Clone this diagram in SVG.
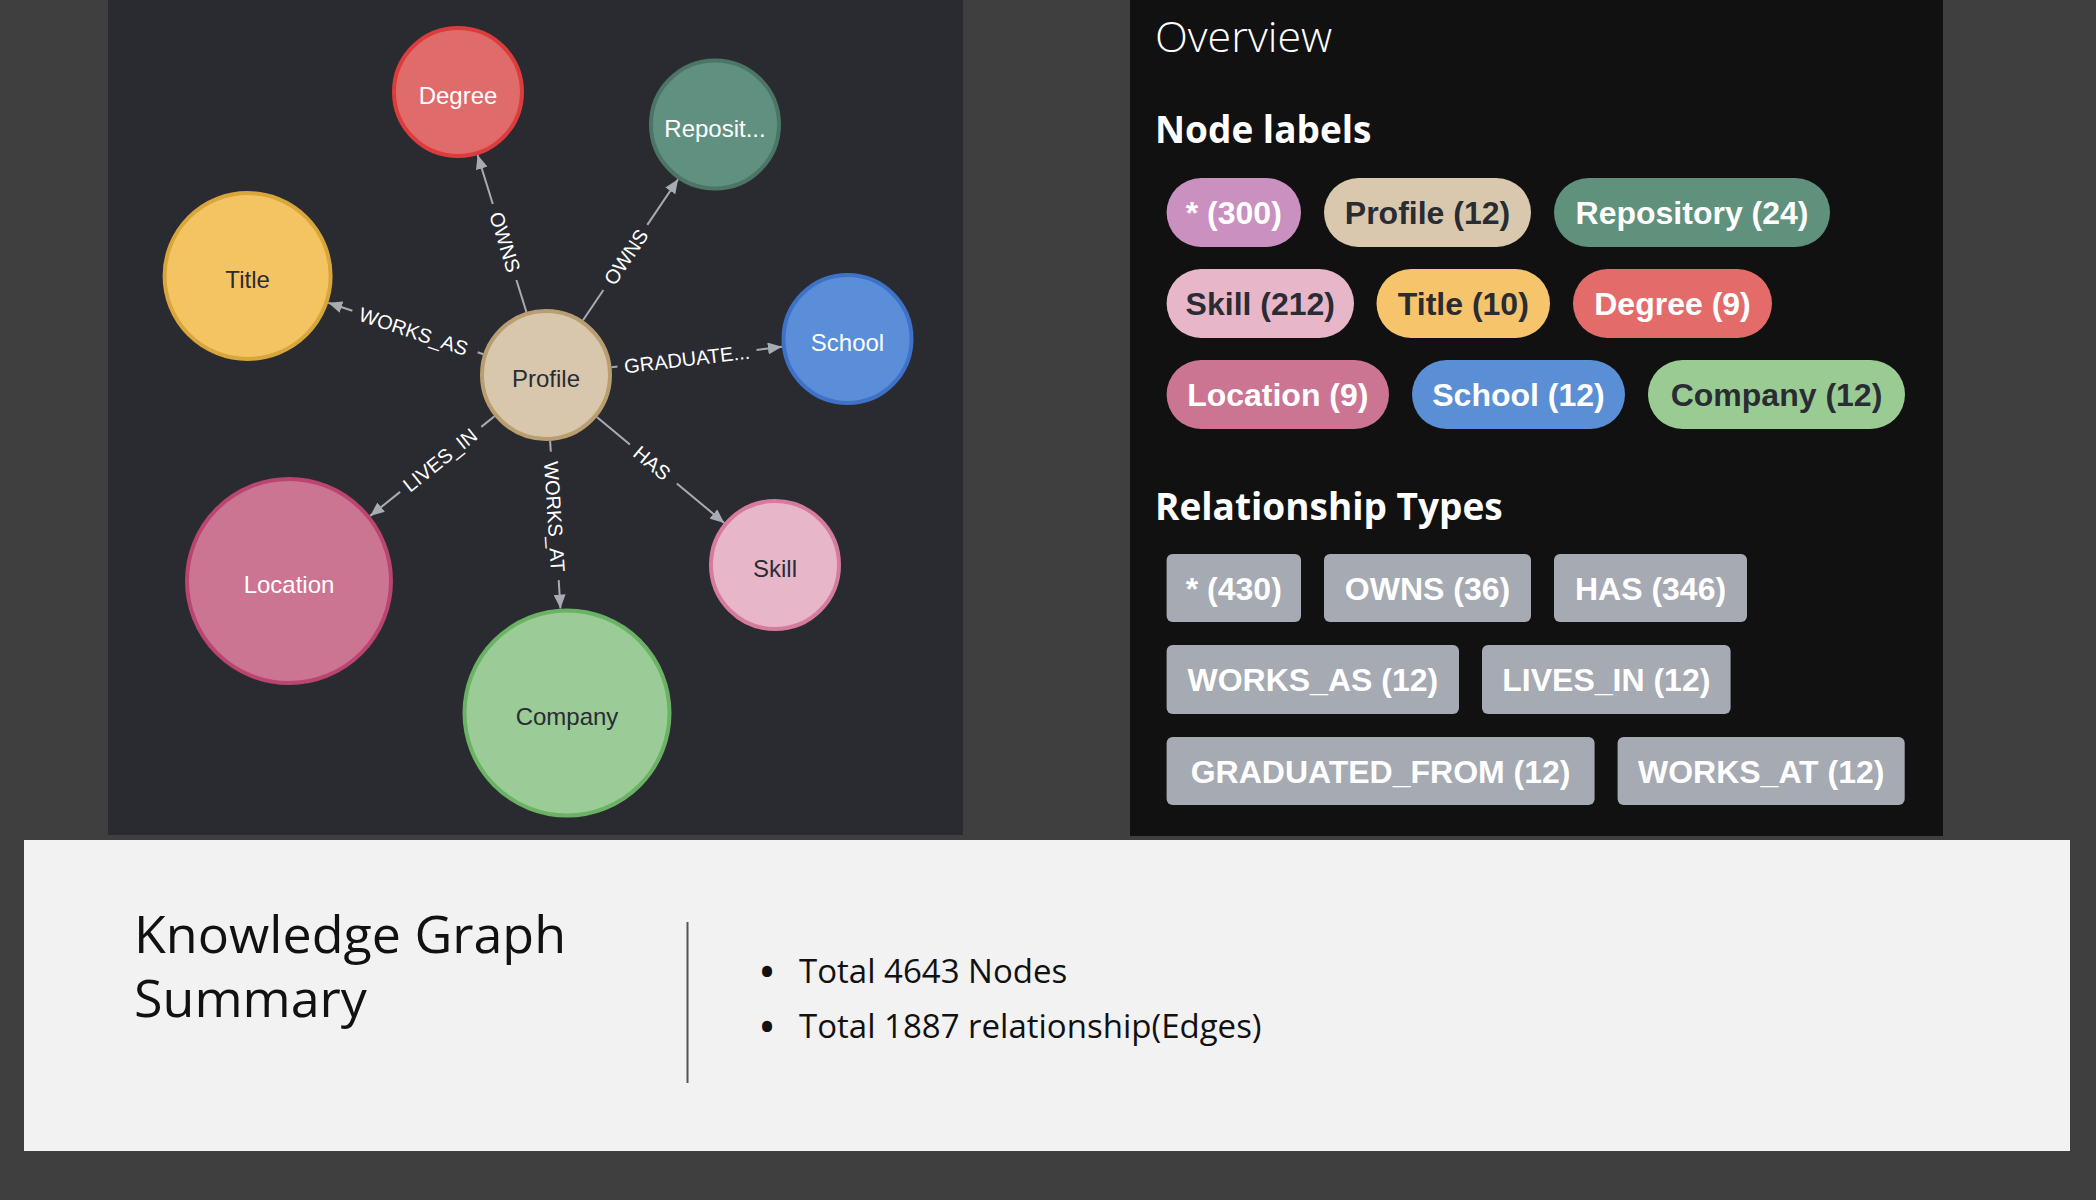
<svg xmlns="http://www.w3.org/2000/svg" width="2096" height="1200" viewBox="0 0 2096 1200">
<defs>
<style>
.nl{font-family:"Liberation Sans",Arial,sans-serif;font-size:24px;text-anchor:middle}
.el{font-family:"Liberation Sans",Arial,sans-serif;font-size:20px;fill:#ffffff;text-anchor:middle}
.edge{stroke:#a7abb4;stroke-width:2;fill:none}
.arr{stroke:#a7abb4;stroke-width:2;fill:none;marker-end:url(#ah)}
.pill{font-family:"Liberation Sans",Arial,sans-serif;font-size:32px;font-weight:bold;text-anchor:middle}
.w{fill:#ffffff}
.d{fill:#2a2c33}
.rel{fill:#a6aab3}
.hd{font-family:"Open Sans","Noto Sans",sans-serif;fill:#ffffff}
.sum{font-family:"Open Sans","Noto Sans",sans-serif;fill:#111111}
.bul{font-family:"Open Sans","Noto Sans",sans-serif;fill:#111111;font-size:36px;font-weight:bold;text-anchor:middle}
</style>
<marker id="ah" viewBox="0 0 14 12" refX="14" refY="6" markerWidth="14" markerHeight="12" markerUnits="userSpaceOnUse" orient="auto">
<path d="M0,0 L14,6 L0,12 z" fill="#a7abb4"/>
</marker>
</defs>
<rect x="0" y="0" width="2096" height="1200" fill="#3f3f3f"/>
<rect x="108" y="0" width="855" height="835" fill="#292b31"/>
<rect x="1130" y="0" width="813" height="836" fill="#111111"/>
<rect x="24" y="840" width="2046" height="311" fill="#f2f2f2"/>

<g id="connectors">
<path class="edge" d="M526.4,312 L516.4,280"/>
<path class="arr" d="M492.8,204 L477.6,155"/>
<text class="el" transform="translate(505,242) rotate(72.7)" y="7">OWNS</text>

<path class="edge" d="M583,320.3 L603.4,290"/>
<path class="arr" d="M647.3,224.9 L678.1,179.3"/>
<text class="el" transform="translate(626,257) rotate(-56)" y="7">OWNS</text>

<path class="edge" d="M483.4,354.2 L477.7,352.3"/>
<path class="arr" d="M352.4,310.7 L328.3,302.7"/>
<text class="el" transform="translate(413.5,331.5) rotate(18.35)" y="7">WORKS_AS</text>

<path class="edge" d="M611.5,367.2 L617.5,366.5"/>
<path class="arr" d="M756.5,349.9 L781.9,346.8"/>
<text class="el" transform="translate(687,359) rotate(-6.8)" y="7">GRADUATE...</text>

<path class="edge" d="M494.5,416.3 L481.3,426.9"/>
<path class="arr" d="M400.1,491.9 L370.2,515.9"/>
<text class="el" transform="translate(440,460) rotate(-38.7)" y="7">LIVES_IN</text>

<path class="edge" d="M550.1,440.9 L550.8,451.8"/>
<path class="arr" d="M558.7,580.1 L560.5,608.5"/>
<text class="el" transform="translate(554.5,516.5) rotate(86.4)" y="7">WORKS_AT</text>

<path class="edge" d="M596.8,417.1 L629.9,444.6"/>
<path class="arr" d="M676.8,483.5 L724.2,522.9"/>
<text class="el" transform="translate(652,463) rotate(39.7)" y="7">HAS</text>
</g>

<g id="node-degree">
<circle cx="458" cy="92" r="64" fill="#e06b6b" stroke="#dd3c3c" stroke-width="4"/>
<text class="nl w" x="458" y="104">Degree</text>
</g>
<g id="node-repository">
<circle cx="715" cy="124.5" r="64" fill="#609180" stroke="#4d7566" stroke-width="4"/>
<text class="nl w" x="715" y="136.5">Reposit...</text>
</g>
<g id="node-title">
<circle cx="247.6" cy="276" r="83" fill="#f5c462" stroke="#d9a63c" stroke-width="4"/>
<text class="nl d" x="247.6" y="288">Title</text>
</g>
<g id="node-school">
<circle cx="847.5" cy="339" r="64" fill="#5a8ed8" stroke="#3d72c8" stroke-width="4"/>
<text class="nl w" x="847.5" y="351">School</text>
</g>
<g id="node-profile">
<circle cx="546" cy="375" r="64" fill="#d8c7ad" stroke="#b99f70" stroke-width="4"/>
<text class="nl d" x="546" y="387">Profile</text>
</g>
<g id="node-location">
<circle cx="289" cy="581" r="102" fill="#cc7593" stroke="#b94570" stroke-width="4"/>
<text class="nl w" x="289" y="593">Location</text>
</g>
<g id="node-company">
<circle cx="567" cy="713" r="102.5" fill="#9bcb96" stroke="#6ab264" stroke-width="4"/>
<text class="nl d" x="567" y="725">Company</text>
</g>
<g id="node-skill">
<circle cx="775" cy="565" r="64" fill="#e8b6c9" stroke="#d67b9d" stroke-width="4"/>
<text class="nl d" x="775" y="577">Skill</text>
</g>

<g id="overview-panel">
<text class="hd" x="1155" y="52" font-size="43" font-weight="300">Overview</text>
<text class="hd" x="1155" y="143" font-size="37" font-weight="bold">Node labels</text>

<rect x="1166.6" y="178" width="134.4" height="69" rx="34.5" fill="#c990c0"/>
<text class="pill w" x="1233.8" y="224">* (300)</text>
<rect x="1324" y="178" width="207" height="69" rx="34.5" fill="#d9c8ae"/>
<text class="pill d" x="1427.5" y="224">Profile (12)</text>
<rect x="1554" y="178" width="276" height="69" rx="34.5" fill="#5f917d"/>
<text class="pill w" x="1692" y="224">Repository (24)</text>

<rect x="1166.6" y="269" width="187.4" height="69" rx="34.5" fill="#e8b6c9"/>
<text class="pill d" x="1260.3" y="315">Skill (212)</text>
<rect x="1376.5" y="269" width="173.5" height="69" rx="34.5" fill="#f6c46a"/>
<text class="pill d" x="1463.3" y="315">Title (10)</text>
<rect x="1573" y="269" width="199" height="69" rx="34.5" fill="#e36c6b"/>
<text class="pill w" x="1672.5" y="315">Degree (9)</text>

<rect x="1166.6" y="360" width="222.4" height="69" rx="34.5" fill="#cc7593"/>
<text class="pill w" x="1277.8" y="406">Location (9)</text>
<rect x="1412" y="360" width="213" height="69" rx="34.5" fill="#5a8fd6"/>
<text class="pill w" x="1518.5" y="406">School (12)</text>
<rect x="1648" y="360" width="257" height="69" rx="34.5" fill="#9acb93"/>
<text class="pill d" x="1776.5" y="406">Company (12)</text>

<text class="hd" x="1155" y="520" font-size="37" font-weight="bold">Relationship Types</text>

<rect class="rel" x="1166.6" y="554" width="134.4" height="68" rx="6"/>
<text class="pill w" x="1233.8" y="599.5">* (430)</text>
<rect class="rel" x="1324" y="554" width="207" height="68" rx="6"/>
<text class="pill w" x="1427.5" y="599.5">OWNS (36)</text>
<rect class="rel" x="1554" y="554" width="193" height="68" rx="6"/>
<text class="pill w" x="1650.5" y="599.5">HAS (346)</text>

<rect class="rel" x="1166.6" y="645" width="292.4" height="69" rx="6"/>
<text class="pill w" x="1312.8" y="691">WORKS_AS (12)</text>
<rect class="rel" x="1482" y="645" width="248.6" height="69" rx="6"/>
<text class="pill w" x="1606.3" y="691">LIVES_IN (12)</text>

<rect class="rel" x="1166.6" y="737" width="428" height="68" rx="6"/>
<text class="pill w" x="1380.6" y="782.5">GRADUATED_FROM (12)</text>
<rect class="rel" x="1617.6" y="737" width="287.1" height="68" rx="6"/>
<text class="pill w" x="1761.2" y="782.5">WORKS_AT (12)</text>
</g>

<g id="summary">
<text class="sum" x="134" y="953" font-size="52">Knowledge Graph</text>
<text class="sum" x="134" y="1017" font-size="52">Summary</text>
<line x1="687.5" y1="922" x2="687.5" y2="1083" stroke="#555555" stroke-width="2"/>
<text class="bul" x="767" y="985">•</text>
<text class="sum" x="799" y="983" font-size="33">Total 4643 Nodes</text>
<text class="bul" x="767" y="1040">•</text>
<text class="sum" x="799" y="1038" font-size="33">Total 1887 relationship(Edges)</text>
</g>
</svg>
